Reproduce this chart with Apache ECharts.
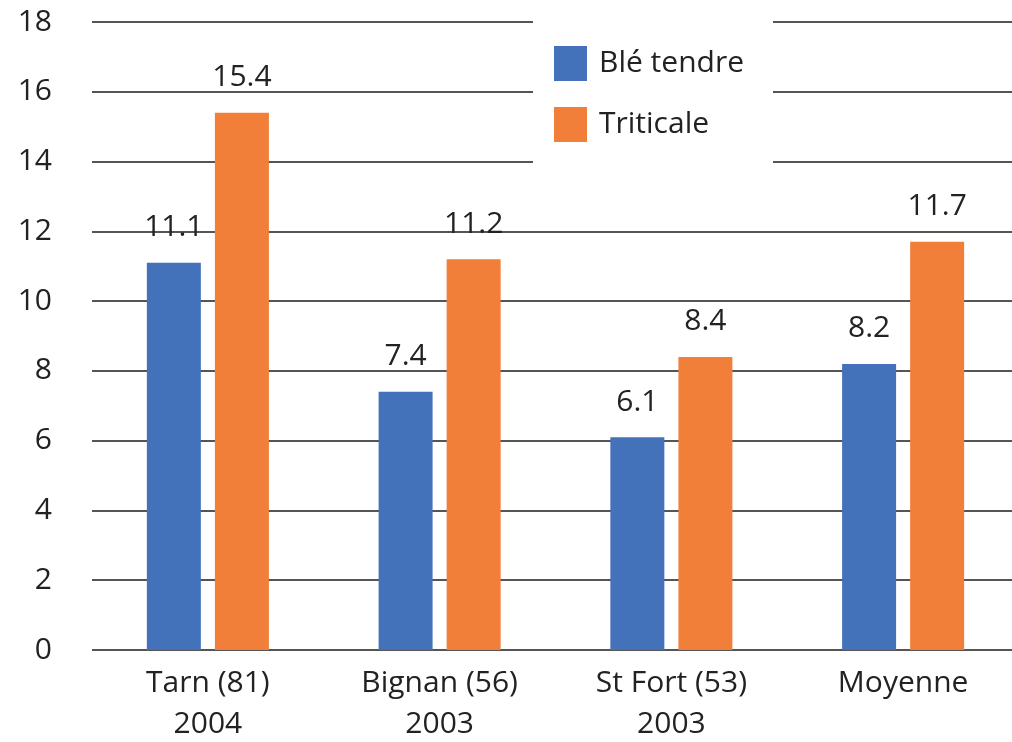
<!DOCTYPE html>
<html><head><meta charset="utf-8">
<script src="https://cdn.jsdelivr.net/npm/echarts@6/dist/echarts.min.js"></script>
<style>html,body{margin:0;padding:0;background:#fff}#c{width:1012px;height:742px}</style>
</head><body><div id="c"></div>
<script>
const categories = ['Tarn (81)\n2004', 'Bignan (56)\n2003', 'St Fort (53)\n2003', 'Moyenne'];
const bleTendre = [11.1, 7.4, 6.1, 8.2];
const triticale = [15.4, 11.2, 8.4, 11.7];
const seriesNames = ['Blé tendre', 'Triticale'];
const font = '"Open Sans", "Noto Sans", sans-serif';
const chart = echarts.init(document.getElementById('c'));
const labelCfg = {show: true, position: 'top', distance: 20, color: '#222', fontSize: 30, fontFamily: font,
  formatter: p => p.value.toFixed(1)};
chart.setOption({
  animation: false,
  grid: {left: 92, right: -7, top: 22, bottom: 92, containLabel: false, outerBoundsMode: 'none'},
  legend: {
    orient: 'vertical', left: 533, top: 10,
    backgroundColor: '#fff',
    padding: [36, 29, 34, 21],
    itemWidth: 33, itemHeight: 35, itemGap: 26,
    icon: 'rect',
    textStyle: {fontSize: 30, color: '#222', fontFamily: font, padding: [0, 0, 0, 7]},
    data: seriesNames
  },
  xAxis: {
    type: 'category', data: categories,
    axisLine: {show: false}, axisTick: {show: false},
    axisLabel: {fontSize: 30, color: '#222', fontFamily: font, lineHeight: 41, margin: 13}
  },
  yAxis: {
    type: 'value', min: 0, max: 18, interval: 2,
    axisLine: {show: false}, axisTick: {show: false},
    axisLabel: {fontSize: 30, color: '#222', fontFamily: font, margin: 40},
    splitLine: {lineStyle: {color: '#555', width: 2}}
  },
  series: [
    {name: seriesNames[0], type: 'bar', data: bleTendre, barWidth: 54, barGap: '26%',
     itemStyle: {color: '#4372BA'}, label: labelCfg},
    {name: seriesNames[1], type: 'bar', data: triticale, barWidth: 54,
     itemStyle: {color: '#F17F3A'}, label: labelCfg}
  ]
});
</script></body></html>
